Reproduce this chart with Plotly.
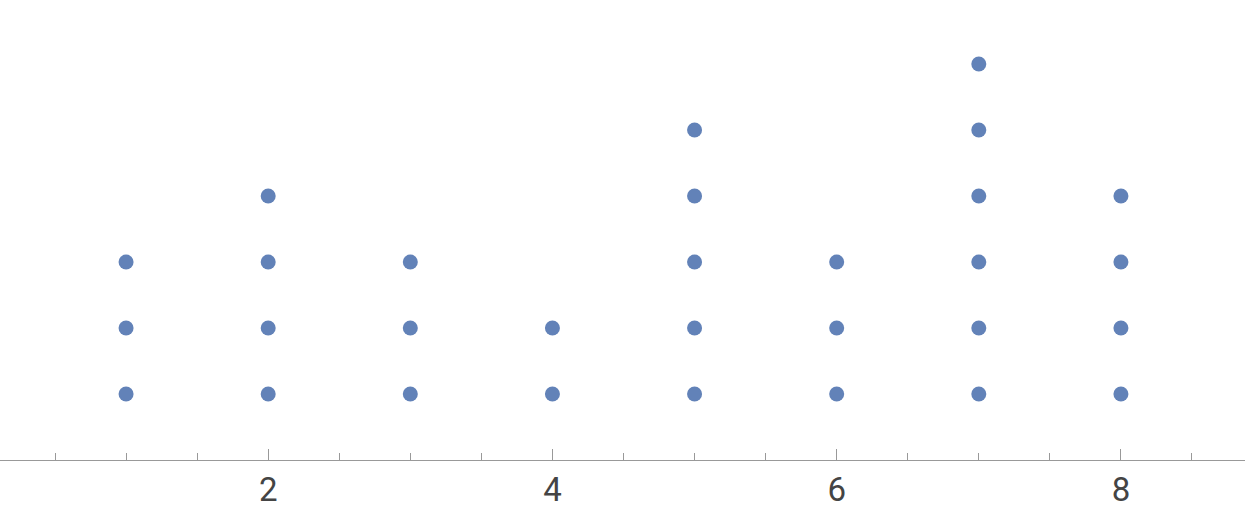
import plotly.graph_objects as go

# values and how many dots are stacked at each
values = [1, 2, 3, 4, 5, 6, 7, 8]
counts = [3, 4, 3, 2, 5, 3, 6, 4]
tickVals = [2, 4, 6, 8]
tickText = ["2", "4", "6", "8"]

dotX = []
dotY = []
for v, c in zip(values, counts):
    for k in range(1, c + 1):
        dotX.append(v)
        dotY.append(k)

fig = go.Figure(go.Scatter(
    x=dotX,
    y=dotY,
    mode='markers',
    marker=dict(size=15, color='#6282B8', line=dict(width=0)),
    hoverinfo='skip'
))

fig.update_layout(
    width=1250,
    height=513,
    margin=dict(l=0, r=5, t=0, b=53),
    plot_bgcolor='white',
    paper_bgcolor='white',
    showlegend=False,
    xaxis=dict(
        range=[0.113, 8.873],
        showgrid=False,
        zeroline=False,
        showline=True,
        linecolor='#999999',
        linewidth=1,
        ticks='inside',
        ticklen=11,
        tickcolor='#999999',
        tickwidth=1,
        tickvals=tickVals,
        ticktext=tickText,
        tickfont=dict(family='Roboto', size=33, color='#444444'),
        minor=dict(ticks='inside', ticklen=7, tickcolor='#999999',
                   tickwidth=1, dtick=0.5, tick0=0.5, showgrid=False),
    ),
    yaxis=dict(
        range=[0, 6.97],
        visible=False,
        showgrid=False,
        zeroline=False,
    ),
)

# page has a default body margin; remove it so the figure sits at (0, 0)
fig.write_html("out.html", config={'displayModeBar': False},
               post_script="document.body.style.margin='0';")
